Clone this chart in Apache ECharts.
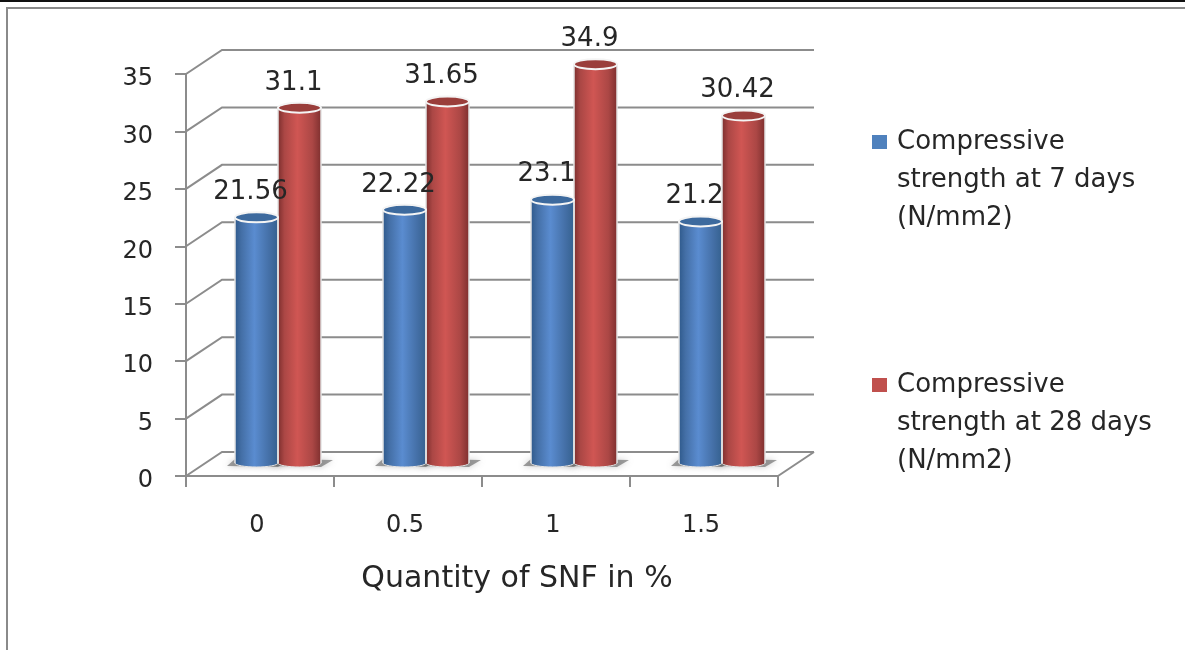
<!DOCTYPE html>
<html><head><meta charset="utf-8">
<style>html,body{margin:0;padding:0;background:#fff}#c{width:1185px;height:650px}</style>
<script src="https://cdn.jsdelivr.net/npm/echarts@6/dist/echarts.min.js"></script>
</head><body><div id="c"></div>
<script>
const categories = ['0', '0.5', '1', '1.5'];
const days7 = [21.56, 22.22, 23.1, 21.2];
const days28 = [31.1, 31.65, 34.9, 30.42];
const valueTicks = [0, 5, 10, 15, 20, 25, 30, 35];
const name7 = 'Compressive\nstrength at 7 days\n(N/mm2)';
const name28 = 'Compressive\nstrength at 28 days\n(N/mm2)';
const axisName = 'Quantity of SNF in %';

const FONT = '"DejaVu Sans"', INK = '#262626', GRID = '#8c8c8c';
const DX = 36, DY = -24;      // depth of the 3D box
const BAR_W = 43, RY = 5;
const chart = echarts.init(document.getElementById('c'));

function grad(a, b, c, d) {
  return new echarts.graphic.LinearGradient(0, 0, 1, 0, [
    {offset: 0, color: a}, {offset: .15, color: b}, {offset: .45, color: c},
    {offset: .8, color: b}, {offset: 1, color: d}]);
}
function cylinder(side, shades, topColor) {
  return function (params, api) {
    const v = api.value(1);
    const base = api.coord([api.value(0), 0]);
    const top = api.coord([api.value(0), v]);
    const cx = base[0] + DX / 2 + side * (BAR_W / 2);
    const y0 = base[1] + DY / 2 - 1, y1 = top[1] + DY / 2 + 1;
    const L = cx - BAR_W / 2, R = cx + BAR_W / 2;
    const fill = grad(shades[0], shades[1], shades[2], shades[3]);
    const edge = {stroke: '#e4e4e4', lineWidth: 1.5};
    return {type: 'group', children: [
      {type: 'polygon', z2: 1, shape: {points: [[L - 8, y0 + 3], [L, y0 - 4], [R + 12, y0 - 3], [R, y0 + 4]]},
        style: {fill: 'rgba(95,95,95,0.6)', shadowBlur: 6, shadowColor: 'rgba(110,110,110,0.6)'}},
      {type: 'ellipse', z2: 2, shape: {cx: cx, cy: y0, rx: BAR_W / 2, ry: 4}, style: {fill: fill, stroke: '#e4e4e4', lineWidth: 1}},
      {type: 'rect', z2: 3, shape: {x: L, y: y1, width: BAR_W, height: y0 - y1}, style: {fill: fill}},
      {type: 'line', z2: 4, shape: {x1: L, y1: y1, x2: L, y2: y0}, style: edge},
      {type: 'line', z2: 4, shape: {x1: R, y1: y1, x2: R, y2: y0}, style: edge},
      {type: 'ellipse', z2: 5, shape: {cx: cx, cy: y1, rx: BAR_W / 2, ry: RY}, style: {fill: topColor, stroke: '#f4f4f4', lineWidth: 2}},
      {type: 'text', z2: 100, style: {x: cx - 6, y: y1 - 25, text: String(v), align: 'center', verticalAlign: 'middle',
        font: '26px ' + FONT, fill: INK}}
    ]};
  };
}
function wall(params, api) {
  const v = api.value(0);
  const half = api.size([1, 0])[0] / 2;
  const a = api.coord([0, v]), b = api.coord([3, v]);
  const x0 = a[0] - half, x1 = b[0] + half, y = a[1];
  const kids = [
    {type: 'polyline', shape: {points: [[x0, y], [x0 + DX, y + DY], [x1 + DX, y + DY]]}, style: {stroke: GRID, lineWidth: 2, fill: 'none'}}
  ];
  if (v === 0) kids.push({type: 'line', shape: {x1: x1, y1: y, x2: x1 + DX, y2: y + DY}, style: {stroke: GRID, lineWidth: 2}});
  return {type: 'group', children: kids};
}

chart.setOption({
  animation: false,
  backgroundColor: '#fff',
  grid: {left: 186, right: 407, top: 74, bottom: 174},
  xAxis: {type: 'category', data: categories,
    axisLine: {lineStyle: {color: GRID, width: 2}},
    axisTick: {show: true, length: 11, alignWithLabel: false, lineStyle: {color: GRID, width: 2}},
    axisLabel: {margin: 38, color: INK, fontFamily: FONT, fontSize: 24, padding: [0, 6, 0, 0]},
    name: axisName, nameLocation: 'middle', nameGap: 88,
    nameTextStyle: {color: INK, fontFamily: FONT, fontSize: 30, padding: [0, 0, 0, 70]}},
  yAxis: {type: 'value', min: 0, max: 35, interval: 5,
    axisLine: {show: true, lineStyle: {color: GRID, width: 2}},
    axisTick: {show: true, length: 11, lineStyle: {color: GRID, width: 2}},
    splitLine: {show: false},
    axisLabel: {margin: 33, color: INK, fontFamily: FONT, fontSize: 24, verticalAlign: 'top', lineHeight: 10}},
  legend: {orient: 'vertical', left: 867, top: 118, itemWidth: 15, itemHeight: 114, itemGap: 129,
    icon: 'path://M0,0L0.01,0L0,0Z M0,12L15,12L15,26L0,26Z M0,114L0.01,114L0,114Z',
    textStyle: {color: INK, fontFamily: FONT, fontSize: 26, lineHeight: 38, padding: [0, 0, 0, 5]},
    data: [name7, name28]},
  series: [
    {type: 'custom', name: 'walls', silent: true, z: 1, data: valueTicks.map(v => [v]), renderItem: wall, encode: {y: 0}, clip: false},
    {type: 'custom', name: name7, z: 3, clip: false, itemStyle: {color: '#4f81bd'},
      data: days7.map((v, i) => [i, v]), encode: {x: 0, y: 1},
      renderItem: cylinder(-1, ['#2f5a8c', '#446fa6', '#5a8cd0', '#35618f'], '#3d6a9e')},
    {type: 'custom', name: name28, z: 3, clip: false, itemStyle: {color: '#c0504d'},
      data: days28.map((v, i) => [i, v]), encode: {x: 0, y: 1},
      renderItem: cylinder(1, ['#7d2f2e', '#ab4745', '#d05653', '#7f302f'], '#9a3e3b')}
  ],
  graphic: [
    {type: 'rect', silent: true, shape: {x: 0, y: 0, width: 1185, height: 2}, style: {fill: '#111'}},
    {type: 'rect', silent: true, shape: {x: 6, y: 7, width: 1179, height: 2}, style: {fill: '#8a8a8a'}},
    {type: 'rect', silent: true, shape: {x: 6, y: 7, width: 2, height: 643}, style: {fill: '#8a8a8a'}}
  ]
});
</script></body></html>
